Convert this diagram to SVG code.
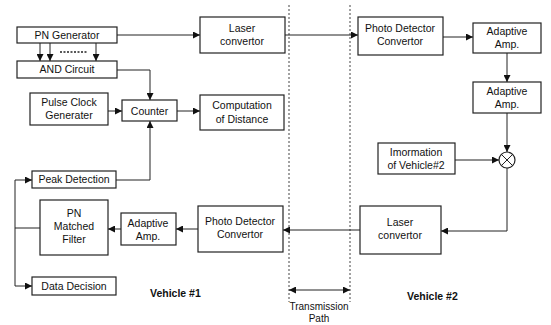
<svg xmlns="http://www.w3.org/2000/svg" width="551" height="325" viewBox="0 0 551 325">
<style>
.b{fill:#fff;stroke:#222;stroke-width:1.2}
.t{font-family:"Liberation Sans",Arial,sans-serif;font-size:10.5px;fill:#111;text-anchor:middle}
.s{font-family:"Liberation Sans",Arial,sans-serif;font-size:10px;fill:#111;text-anchor:middle}
.v{font-family:"Liberation Sans",Arial,sans-serif;font-size:10.5px;font-weight:bold;fill:#111}
.l{fill:none;stroke:#222;stroke-width:1}
.d{fill:none;stroke:#444;stroke-width:1;stroke-dasharray:2,2}
</style>
<defs>
<marker id="a" viewBox="0 0 10 10" refX="10" refY="5" markerWidth="7" markerHeight="7" markerUnits="userSpaceOnUse" orient="auto-start-reverse">
<path d="M0,0L10,5L0,10z" fill="#111"/>
</marker>
</defs>
<rect width="551" height="325" fill="#fff"/>
<g id="tpath">
<line class="d" x1="289" y1="5" x2="289" y2="302"/>
<line class="d" x1="350" y1="5" x2="350" y2="302"/>
</g>
<g id="connectors">
<line class="l" x1="117" y1="35" x2="200" y2="35" marker-end="url(#a)"/>
<line class="l" x1="285" y1="35" x2="358" y2="35" marker-end="url(#a)"/>
<line class="l" x1="40" y1="43" x2="40" y2="61" marker-end="url(#a)"/>
<line class="l" x1="50" y1="43" x2="50" y2="61" marker-end="url(#a)"/>
<line class="l" x1="96" y1="43" x2="96" y2="61" marker-end="url(#a)"/>
<line x1="60" y1="52" x2="87" y2="52" stroke="#222" stroke-width="1.5" stroke-dasharray="2,1.5"/>
<polyline class="l" points="117,70 150,70 150,100" marker-end="url(#a)"/>
<polyline class="l" points="116,180 150,180 150,121" marker-end="url(#a)"/>
<line class="l" x1="108" y1="111" x2="122" y2="111" marker-end="url(#a)"/>
<line class="l" x1="177" y1="111" x2="200" y2="111" marker-end="url(#a)"/>
<line class="l" x1="443" y1="37" x2="473" y2="37" marker-end="url(#a)"/>
<line class="l" x1="507" y1="53" x2="507" y2="82" marker-end="url(#a)"/>
<line class="l" x1="507" y1="113" x2="507" y2="152" marker-end="url(#a)"/>
<line class="l" x1="455" y1="160" x2="499" y2="160" marker-end="url(#a)"/>
<polyline class="l" points="507,168 507,231 441,231" marker-end="url(#a)"/>
<line class="l" x1="360" y1="230" x2="283" y2="230" marker-end="url(#a)"/>
<line class="l" x1="198" y1="229" x2="176" y2="229" marker-end="url(#a)"/>
<line class="l" x1="121" y1="229" x2="108" y2="229" marker-end="url(#a)"/>
<polyline class="l" points="40,228 15,228"/>
<line class="l" x1="15" y1="180" x2="15" y2="286"/>
<line class="l" x1="15" y1="180" x2="32" y2="180" marker-end="url(#a)"/>
<line class="l" x1="15" y1="286" x2="32" y2="286" marker-end="url(#a)"/>
<line class="l" x1="289" y1="290" x2="350" y2="290" marker-start="url(#a)" marker-end="url(#a)"/>
</g>
<g id="pngen"><rect class="b" x="17" y="27" width="100" height="16"/><text class="t" x="67" y="39">PN Generator</text></g>
<g id="and"><rect class="b" x="17" y="61" width="100" height="17"/><text class="t" x="67" y="73">AND Circuit</text></g>
<g id="laser1"><rect class="b" x="200" y="17" width="85" height="36"/><text class="t" x="242" y="32">Laser</text><text class="t" x="242" y="45">convertor</text></g>
<g id="pd2"><rect class="b" x="358" y="17" width="85" height="38"/><text class="t" x="400" y="32">Photo Detector</text><text class="t" x="400" y="45">Convertor</text></g>
<g id="amp2a"><rect class="b" x="473" y="23" width="68" height="30"/><text class="t" x="507" y="35">Adaptive</text><text class="t" x="507" y="48">Amp.</text></g>
<g id="amp2b"><rect class="b" x="473" y="82" width="68" height="31"/><text class="t" x="507" y="95">Adaptive</text><text class="t" x="507" y="108">Amp.</text></g>
<g id="info"><rect class="b" x="378" y="143" width="77" height="31"/><text class="t" x="416" y="156">Imormation</text><text class="t" x="416" y="169">of Vehicle#2</text></g>
<g id="mult"><circle cx="507" cy="160" r="8" class="b"/><path class="l" d="M501.3,154.3L512.7,165.7M512.7,154.3L501.3,165.7"/></g>
<g id="laser2"><rect class="b" x="360" y="206" width="81" height="48"/><text class="t" x="400" y="226">Laser</text><text class="t" x="400" y="239">convertor</text></g>
<g id="pd1"><rect class="b" x="198" y="206" width="85" height="46"/><text class="t" x="240" y="225">Photo Detector</text><text class="t" x="240" y="238">Convertor</text></g>
<g id="amp1"><rect class="b" x="121" y="213" width="55" height="32"/><text class="t" x="148" y="227">Adaptive</text><text class="t" x="148" y="240">Amp.</text></g>
<g id="pnmf"><rect class="b" x="40" y="200" width="68" height="55"/><text class="t" x="74" y="217">PN</text><text class="t" x="74" y="230">Matched</text><text class="t" x="74" y="243">Filter</text></g>
<g id="peak"><rect class="b" x="32" y="171" width="84" height="17"/><text class="t" x="74" y="183">Peak Detection</text></g>
<g id="data"><rect class="b" x="32" y="277" width="84" height="18"/><text class="t" x="74" y="290">Data Decision</text></g>
<g id="pulse"><rect class="b" x="30" y="93" width="78" height="32"/><text class="t" x="69" y="106">Pulse Clock</text><text class="t" x="69" y="119">Generater</text></g>
<g id="counter"><rect class="b" x="122" y="100" width="55" height="21"/><text class="t" x="149.5" y="115">Counter</text></g>
<g id="comp"><rect class="b" x="200" y="95" width="84" height="35"/><text class="t" x="242" y="109">Computation</text><text class="t" x="242" y="123">of Distance</text></g>
<g id="labels">
<text class="s" x="319" y="310">Transmission</text>
<text class="s" x="319" y="322">Path</text>
<text class="v" x="150" y="297">Vehicle #1</text>
<text class="v" x="407" y="300">Vehicle #2</text>
</g>
</svg>
